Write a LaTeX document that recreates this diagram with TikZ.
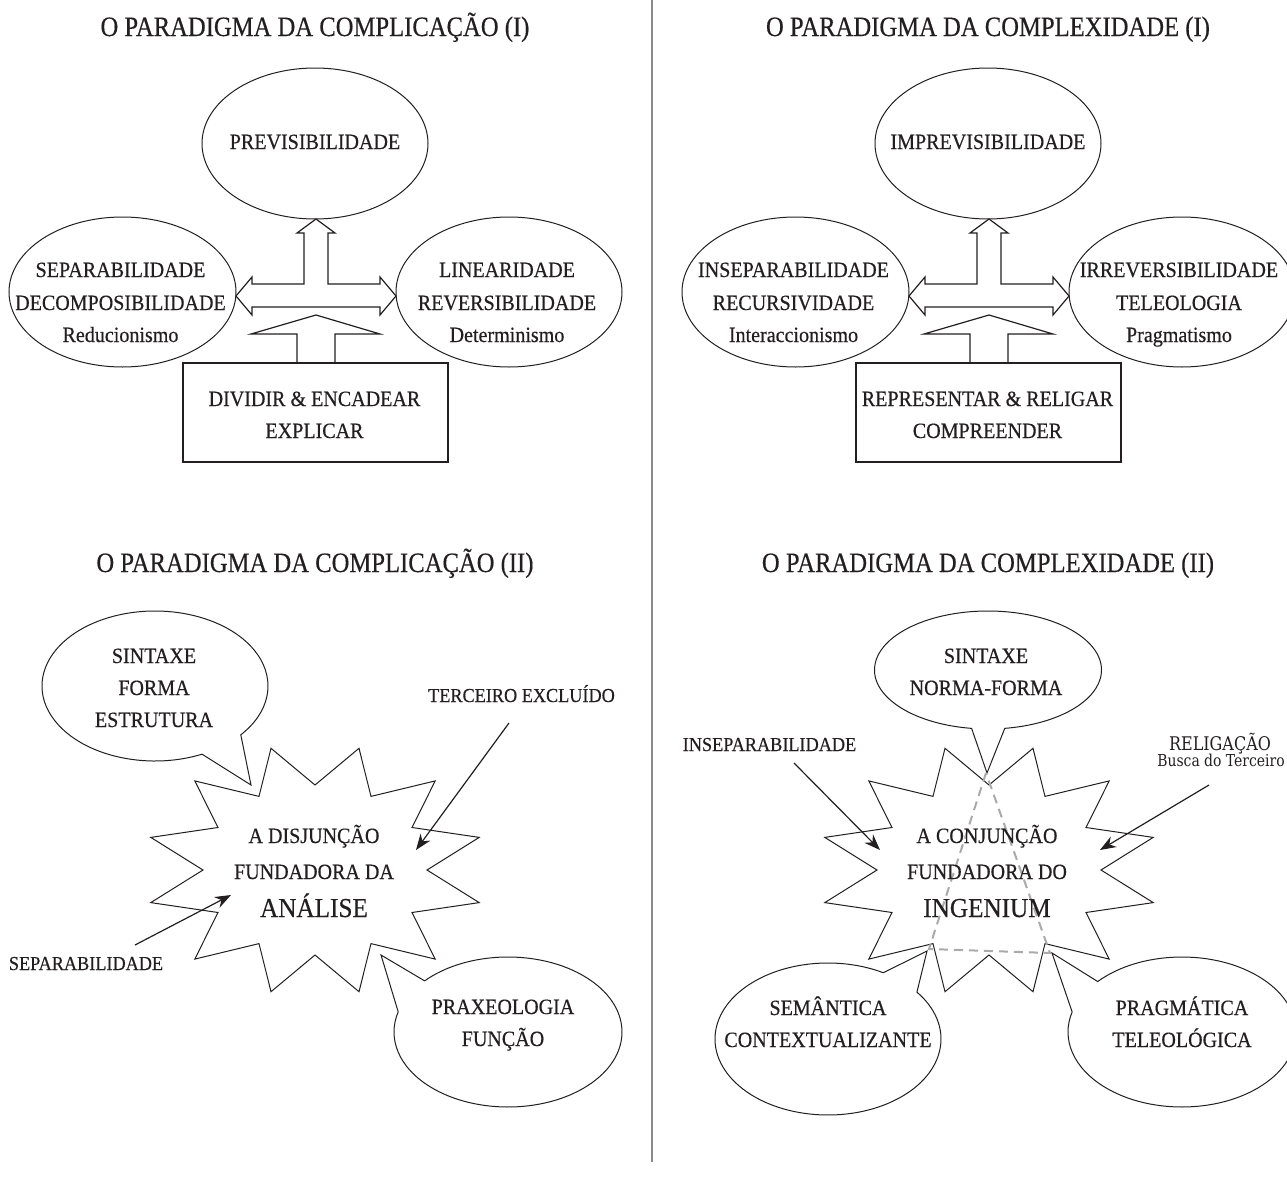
\documentclass[tikz,border=0pt]{standalone}
\usepackage{fontspec}
\setmainfont{Liberation Serif}[FakeStretch=0.92,FakeBold=0.4]
\newfontfamily\titlefont{Liberation Serif}[FakeStretch=0.88,FakeBold=0.4]
\newfontfamily\smallserif{DejaVu Serif}[FakeStretch=0.85]
\usetikzlibrary{shapes.geometric,arrows.meta,calc}
\definecolor{ink}{HTML}{231F20}
\definecolor{divgray}{HTML}{8A8A8A}
\definecolor{dashgray}{HTML}{AAAAAA}
\tikzset{
  body/.style={font=\fontsize{10.9}{13}\selectfont, anchor=base, inner sep=0pt, text=ink},
  bigword/.style={font=\fontsize{13.7}{16}\selectfont, anchor=base, inner sep=0pt, text=ink},
  lab/.style={font=\fontsize{9.9}{12}\selectfont, anchor=base, inner sep=0pt, text=ink},
  smalllab/.style={font=\smallserif\fontsize{8.2}{9}\selectfont, anchor=base, inner sep=0pt, text=ink},
  ttl/.style={font=\titlefont\fontsize{14}{17}\selectfont, anchor=base, inner sep=0pt, text=ink},
  ell/.style={ellipse, draw=ink, line width=0.5pt, inner sep=0pt},
  boxnode/.style={rectangle, draw=ink, line width=0.6pt, inner sep=0pt},
  outline/.style={draw=ink, line width=0.5pt, line join=miter},
  blockarrow/.style={draw=ink, line width=0.6pt, line join=miter},
  callarrow/.style={draw=ink, line width=0.6pt, -{Stealth[length=8pt,width=6pt]}},
  divider/.style={draw=divgray, line width=1pt},
  tri/.style={draw=dashgray, line width=1pt, dash pattern=on 4.5pt off 3pt}
}
\newcommand{\starshape}[1]{%
  \draw[outline] ($(#1)+(0:112 and 85)$)
    \foreach \k in {0,...,11} { -- ($(#1)+({30*\k+15}:170 and 126)$) -- ($(#1)+({30*\k+30}:112 and 85)$) } -- cycle;}
\newcommand{\crossarrows}{%
  \draw[blockarrow] (316,219) -- (335,233) -- (328,233) -- (328,284) -- (380,284) -- (380,277) -- (396,296)
    -- (380,315) -- (380,307) -- (252,307) -- (252,315) -- (236,296) -- (252,277) -- (252,284)
    -- (304,284) -- (304,233) -- (297,233) -- cycle;
  \draw[blockarrow] (297,363) -- (297,334) -- (251,334) -- (316,315) -- (380,334) -- (335,334) -- (335,363);}
\begin{document}
\begin{tikzpicture}[x=0.5pt,y=-0.5pt]
\useasboundingbox (0,0) rectangle (1287,1189);
\clip (0,0) rectangle (1287,1189);
\fill[white] (0,0) rectangle (1287,1189);

% divider
\coordinate (dtop) at (652,0);
\coordinate (dbot) at (652,1162);
\draw[divider] (dtop) -- (dbot);

% ===== top-left =====
\node[ttl] (t1) at (315,36) {O PARADIGMA DA COMPLICAÇÃO (I)};
\node[ell, minimum width=113pt, minimum height=75.5pt] (pv) at (315,143.5) {};
\node[body] (pvt) at (315,149) {PREVISIBILIDADE};
\node[ell, minimum width=113.5pt, minimum height=75pt] (sep) at (122.5,292) {};
\node[body] (sep1) at (120.5,277) {SEPARABILIDADE};
\node[body] (sep2) at (120.5,310) {DECOMPOSIBILIDADE};
\node[body] (sep3) at (120.5,342) {Reducionismo};
\node[ell, minimum width=113pt, minimum height=75pt] (lin) at (509,292) {};
\node[body] (lin1) at (507,277) {LINEARIDADE};
\node[body] (lin2) at (507,310) {REVERSIBILIDADE};
\node[body] (lin3) at (507,342) {Determinismo};
\node[boxnode, minimum width=132.5pt, minimum height=49.5pt] (bx1) at (315.5,412.5) {};
\node[body] (bx1a) at (314.5,406) {DIVIDIR \& ENCADEAR};
\node[body] (bx1b) at (314.5,438) {EXPLICAR};
\crossarrows

% ===== top-right =====
\node[ttl] (t2) at (988,36) {O PARADIGMA DA COMPLEXIDADE (I)};
\node[ell, minimum width=113pt, minimum height=75.5pt] (ipv) at (988,143.5) {};
\node[body] (ipvt) at (988,149) {IMPREVISIBILIDADE};
\node[ell, minimum width=113.5pt, minimum height=75pt] (ins) at (795.5,292) {};
\node[body] (ins1) at (793.5,277) {INSEPARABILIDADE};
\node[body] (ins2) at (793.5,310) {RECURSIVIDADE};
\node[body] (ins3) at (793.5,342) {Interaccionismo};
\node[ell, minimum width=113pt, minimum height=75pt] (irr) at (1182,292) {};
\node[body] (irr1) at (1179,277) {IRREVERSIBILIDADE};
\node[body] (irr2) at (1179,310) {TELEOLOGIA};
\node[body] (irr3) at (1179,342) {Pragmatismo};
\node[boxnode, minimum width=132.5pt, minimum height=49.5pt] (bx2) at (988.5,412.5) {};
\node[body] (bx2a) at (987.5,406) {REPRESENTAR \& RELIGAR};
\node[body] (bx2b) at (987.5,438) {COMPREENDER};
\begin{scope}[shift={(673,0)}]
\crossarrows
\end{scope}

% ===== bottom-left =====
\node[ttl] (t3) at (315,572) {O PARADIGMA DA COMPLICAÇÃO (II)};
\coordinate (sL) at (315,870);
\starshape{sL}
\coordinate (bsin) at (155,686);
\draw[outline] ($(bsin)+(65.4:113 and 75)$) arc[start angle=65.4, end angle=400.6, x radius=113, y radius=75] -- (251,785) -- cycle;
\node[body] (sin1) at (154,663) {SINTAXE};
\node[body] (sin2) at (154,695) {FORMA};
\node[body] (sin3) at (154,727) {ESTRUTURA};
\node[body] (dj1) at (314,843) {A DISJUNÇÃO};
\node[body] (dj2) at (314,879) {FUNDADORA DA};
\node[bigword] (dj3) at (314,917) {ANÁLISE};
\node[lab] (ter) at (521.5,702) {TERCEIRO EXCLUÍDO};
\coordinate (ter0) at (509,723);
\coordinate (ter1) at (416,850);
\draw[callarrow] (ter0) -- (ter1);
\node[lab] (sepl) at (86,970) {SEPARABILIDADE};
\coordinate (sepl0) at (135,945);
\coordinate (sepl1) at (231,895);
\draw[callarrow] (sepl0) -- (sepl1);
\coordinate (bprax) at (508,1032);
\draw[outline] ($(bprax)+(223:114 and 75)$) arc[start angle=223, end angle=555.6, x radius=114, y radius=75] -- (381,955) -- cycle;
\node[body] (px1) at (503,1014) {PRAXEOLOGIA};
\node[body] (px2) at (503,1046) {FUNÇÃO};

% ===== bottom-right =====
\node[ttl] (t4) at (988,572) {O PARADIGMA DA COMPLEXIDADE (II)};
\coordinate (sR) at (989,870);
\starshape{sR}
\coordinate (bsin2) at (988,670);
\draw[outline] ($(bsin2)+(98.3:113.5 and 59)$) arc[start angle=98.3, end angle=441.5, x radius=113.5, y radius=59] -- (987,773) -- cycle;
\node[body] (sn1) at (986,663) {SINTAXE};
\node[body] (sn2) at (986,695) {NORMA-FORMA};
\coordinate (trA) at (986,773);
\coordinate (trB) at (929,949);
\coordinate (trC) at (1050,953);
\draw[tri] (trA) -- (trB) -- (trC) -- cycle;
\node[body] (cj1) at (987,843) {A CONJUNÇÃO};
\node[body] (cj2) at (987,879) {FUNDADORA DO};
\node[bigword] (cj3) at (987,917) {INGENIUM};
\node[lab] (insl) at (769.5,751) {INSEPARABILIDADE};
\coordinate (insl0) at (794,763);
\coordinate (insl1) at (880,850);
\draw[callarrow] (insl0) -- (insl1);
\node[smalllab, font=\smallserif\fontsize{9.4}{10}\selectfont] (rel1) at (1220,750) {RELIGAÇÃO};
\node[smalllab] (rel2) at (1221,766) {Busca do Terceiro};
\coordinate (rel0) at (1209,785);
\coordinate (rel3) at (1100,850);
\draw[callarrow] (rel0) -- (rel3);
\coordinate (bsem) at (828,1039);
\draw[outline] ($(bsem)+(321.9:113 and 76)$) arc[start angle=321.9, end angle=659.3, x radius=113, y radius=76] -- (927,951) -- cycle;
\node[body] (sm1) at (828,1015) {SEMÂNTICA};
\node[body] (sm2) at (828,1047) {CONTEXTUALIZANTE};
\coordinate (bprag) at (1182,1032);
\draw[outline] ($(bprag)+(222.3:114 and 75)$) arc[start angle=222.3, end angle=555.5, x radius=114, y radius=75] -- (1052,953) -- cycle;
\node[body] (pg1) at (1182,1015) {PRAGMÁTICA};
\node[body] (pg2) at (1182,1047) {TELEOLÓGICA};
\end{tikzpicture}
\end{document}
